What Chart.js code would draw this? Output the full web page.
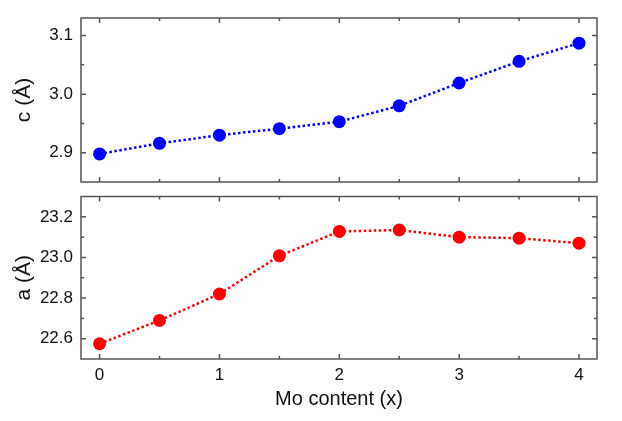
<!DOCTYPE html>
<html>
<head>
<meta charset="utf-8">
<script src="https://cdn.jsdelivr.net/npm/chart.js@4/dist/chart.umd.min.js"></script>
<style>
    html, body { margin: 0; padding: 0; background: #fff; }
    #wrap { position: relative; width: 622px; height: 421px; }
    #wrap div { position: absolute; left: 0; width: 622px; }
</style>
</head>
<body>
<div id="wrap">
    <div style="top:0;height:190px"><canvas id="chartC"></canvas></div>
    <div style="top:190px;height:231px"><canvas id="chartA"></canvas></div>
</div>
<script>
// Lattice parameters vs Mo content

const moContent = [0, 0.5, 1, 1.5, 2, 2.5, 3, 3.5, 4];
const cValues = [2.898, 2.916, 2.930, 2.941, 2.953, 2.980, 3.019, 3.056, 3.087];
const aValues = [22.575, 22.690, 22.820, 23.008, 23.128, 23.135, 23.100, 23.095, 23.070];

const xMajor = [0, 1, 2, 3, 4];
const xMinor = [0.5, 1.5, 2.5, 3.5];
const cMajor = [2.9, 3.0, 3.1];
const cMinor = [2.95, 3.05];
const aMajor = [22.6, 22.8, 23.0, 23.2];
const aMinor = [22.7, 22.9, 23.1];

const FONT = '"Liberation Sans", Arial, sans-serif';
const FRAME = '#555555';

// frame with inward ticks on all four sides
const frameTicks = {
    id: 'frameTicks',
    afterDatasetsDraw(chart, args, opts) {
        const ctx = chart.ctx;
        const area = chart.chartArea;
        const xs = chart.scales.x;
        const ys = chart.scales.y;
        ctx.save();
        ctx.strokeStyle = FRAME;
        ctx.lineWidth = 1.5;
        ctx.beginPath();
        const tick = (vals, len, horiz) => {
            vals.forEach(v => {
                if (horiz) {
                    const px = xs.getPixelForValue(v);
                    ctx.moveTo(px, area.bottom); ctx.lineTo(px, area.bottom - len);
                    ctx.moveTo(px, area.top); ctx.lineTo(px, area.top + len);
                } else {
                    const py = ys.getPixelForValue(v);
                    ctx.moveTo(area.left, py); ctx.lineTo(area.left + len, py);
                    ctx.moveTo(area.right, py); ctx.lineTo(area.right - len, py);
                }
            });
        };
        tick(xMajor, 5, true);
        tick(xMinor, 3, true);
        tick(opts.yMajor, 5, false);
        tick(opts.yMinor, 3, false);
        ctx.stroke();
        ctx.strokeRect(area.left, area.top, area.right - area.left, area.bottom - area.top);
        ctx.restore();
    }
};

function makePanel(id, values, color, yMin, yMax, yMajor, yMinor, yTitle, showX) {
    const ctx = document.getElementById(id);
    return new Chart(ctx, {
        type: 'line',
        data: {
            datasets: [{
                data: moContent.map((x, i) => ({ x: x, y: values[i] })),
                borderColor: color,
                backgroundColor: color,
                borderWidth: 2.5,
                borderDash: [2.5, 2.5],
                pointRadius: 6.5,
                pointBorderWidth: 0,
                pointBackgroundColor: color,
                tension: 0
            }]
        },
        options: {
            responsive: true,
            maintainAspectRatio: false,
            animation: false,
            layout: {
                padding: showX ? { top: 5, right: 25, bottom: 0, left: 0 } : { top: 18, right: 25, bottom: 8, left: 0 }
            },
            plugins: {
                legend: { display: false },
                tooltip: { enabled: false },
                frameTicks: { yMajor: yMajor, yMinor: yMinor }
            },
            scales: {
                x: {
                    type: 'linear',
                    min: -0.155,
                    max: 4.15,
                    display: showX,
                    border: { display: false },
                    grid: { display: false, drawTicks: false },
                    afterBuildTicks: s => { s.ticks = xMajor.map(v => ({ value: v })); },
                    afterFit: s => {
                        if (showX) s.height = 62;
                        s.paddingLeft = 0;
                        s.paddingRight = 0;
                    },
                    ticks: {
                        padding: 6,
                        color: '#111',
                        font: { family: FONT, size: 17 },
                        callback: v => String(v)
                    },
                    title: {
                        display: true,
                        text: 'Mo content (x)',
                        color: '#111',
                        font: { family: FONT, size: 20 },
                        padding: { top: 0, bottom: 10 }
                    }
                },
                y: {
                    min: yMin,
                    max: yMax,
                    border: { display: false },
                    grid: { display: false, drawTicks: false },
                    afterBuildTicks: s => { s.ticks = yMajor.map(v => ({ value: v })); },
                    afterFit: s => {
                        s.width = 81;
                        s.paddingTop = 0;
                        s.paddingBottom = 0;
                    },
                    ticks: {
                        padding: 8,
                        color: '#111',
                        font: { family: FONT, size: 17 },
                        callback: v => v.toFixed(1)
                    },
                    title: {
                        display: true,
                        text: yTitle,
                        color: '#111',
                        font: { family: FONT, size: 21 },
                        padding: { top: 12, bottom: 0 }
                    }
                }
            }
        },
        plugins: [frameTicks]
    });
}

makePanel('chartC', cValues, '#0000ff', 2.85, 3.13, cMajor, cMinor, 'c (Å)', false);
makePanel('chartA', aValues, '#ff0000', 22.5, 23.3, aMajor, aMinor, 'a (Å)', true);
</script>
</body>
</html>
